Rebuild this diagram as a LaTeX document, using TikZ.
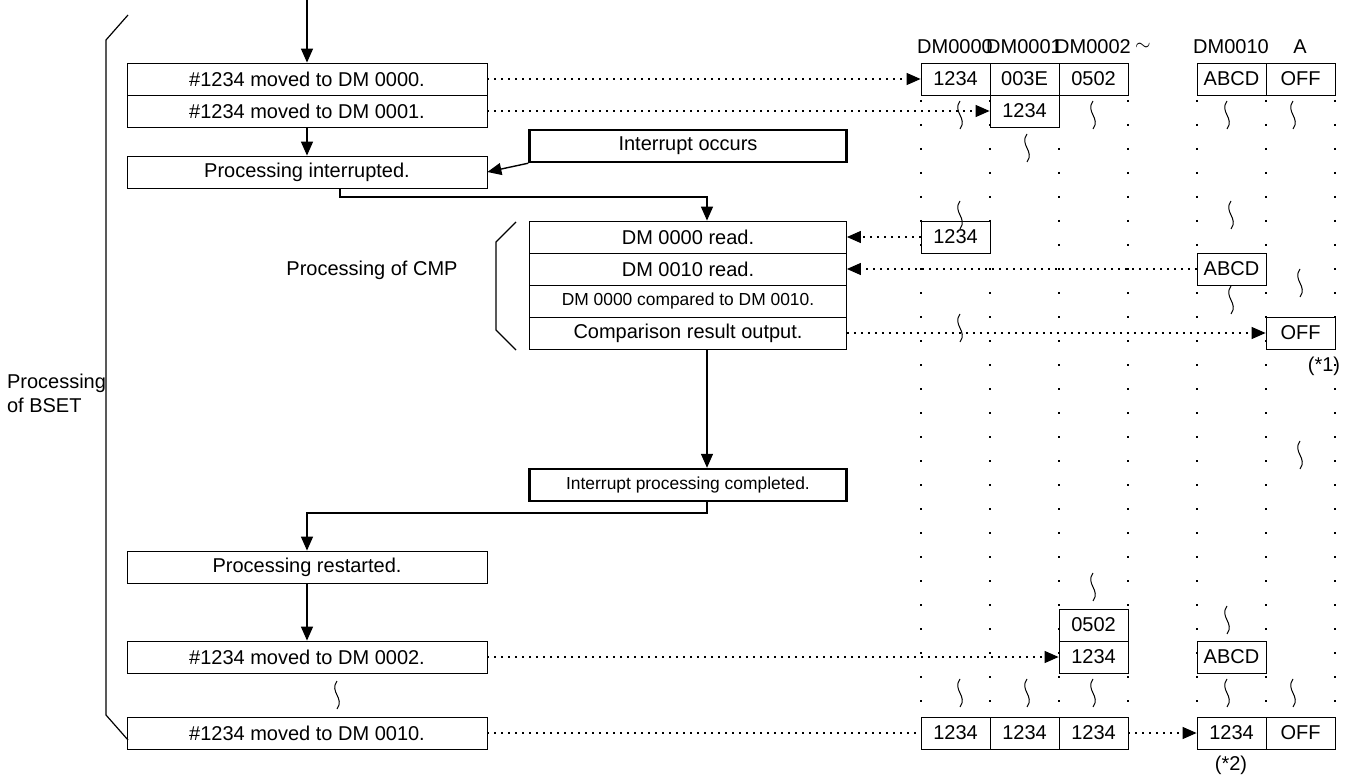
\documentclass[tikz,border=0pt]{standalone}
\usepackage{fontspec}
\setmainfont{Liberation Sans}
\usetikzlibrary{arrows.meta}
\begin{document}
\begin{tikzpicture}[x=0.5pt, y=-0.5pt, font=\fontsize{10}{12}\selectfont]
    % ================= styles =================
    \tikzset{
        % left process boxes
        pbox/.style={draw, fill=white, minimum width=180pt, minimum height=16pt, inner sep=0pt},
        % CMP boxes
        cbox/.style={draw, fill=white, minimum width=158.5pt, minimum height=16pt, inner sep=0pt},
        ebox/.style={cbox, line width=1.2pt},
        % memory cells
        cell/.style={draw, fill=white, minimum width=34.5pt, minimum height=16pt, inner sep=0pt},
        flow/.style={-{Triangle[length=7pt, width=6pt]}, line width=0.7pt},
        dots/.style={dash pattern=on 1pt off 2.5pt, line width=0.6pt},
        dotarrow/.style={dots, -{Triangle[length=7pt, width=6pt]}},
        grid_line/.style={dash pattern=on 1pt off 11pt, line width=0.8pt}
    }
    \newcommand{\squig}[2]{\draw[line width=0.5pt] (#1,#2-14) .. controls (#1-8,#2-3) and (#1+8,#2+3) .. (#1,#2+14);}
    \useasboundingbox (0,0) rectangle (1351,781);

    % column guides
    \foreach \x in {921,990,1059,1128,1197,1266,1335}
        \draw[grid_line] (\x,100) -- (\x,716);

    % headers
    \foreach \x/\t in {955/DM0000, 1024/DM0001, 1093/DM0002, 1231/DM0010, 1300/A}
        \node (h\t) at (\x,47) {\t};
    \node (tilde) at (1143,47) {$\sim$};

    % ================= left column =================
    \coordinate (start) at (307,0);
    \node[pbox] (m0) at (307,79) {\#1234 moved to DM 0000.};
    \node[pbox] (m1) at (307,111) {\#1234 moved to DM 0001.};
    \node[pbox] (pint) at (307,172) {Processing interrupted.};
    \node[ebox] (irq) at (688,146) {Interrupt occurs};
    \node[pbox] (prst) at (307,567) {Processing restarted.};
    \node[pbox] (m2) at (307,657) {\#1234 moved to DM 0002.};
    \node[pbox] (m10) at (307,733) {\#1234 moved to DM 0010.};

    % CMP
    \node[cbox] (c1) at (688,237) {DM 0000 read.};
    \node[cbox] (c2) at (688,269) {DM 0010 read.};
    \node[cbox, font=\fontsize{8.7}{10}\selectfont] (c3) at (688,301) {DM 0000 compared to DM 0010.};
    \node[cbox] (c4) at (688,333) {Comparison result output.};
    \node[ebox, font=\fontsize{8.7}{10}\selectfont] (done) at (688,485) {Interrupt processing completed.};

    % brackets and labels
    \draw[line width=0.6pt] (128,15) -- (106,40) -- (106,715) -- (128,740);
    \draw[line width=0.6pt] (516,222) -- (496,242) -- (496,330) -- (516,350);
    \node[align=left, anchor=west] (bset) at (0,393) {Processing\\of BSET};
    \node (cmp) at (372,270) {Processing of CMP};

    % flow arrows
    \draw[flow] (start) -- (m0.north);
    \draw[flow] (m1.south) -- (pint.north);
    \draw[flow] (irq.south west) -- (pint.east);
    \draw[flow] (pint.south -| 340,0) -- (340,197) -- (707,197) -- (c1.north -| 707,0);
    \draw[flow] (c4.south -| 707,0) -- (done.north -| 707,0);
    \draw[flow] (done.south -| 707,0) -- (707,513) -- (307,513) -- (prst.north);
    \draw[flow] (prst.south) -- (m2.north);
    \squig{337}{695}

    % ================= memory cells =================
    \node[cell] (a0) at (955.5,79) {1234};
    \node[cell] (a1) at (1024.5,79) {003E};
    \node[cell] (a2) at (1093.5,79) {0502};
    \node[cell] (a10) at (1231.5,79) {ABCD};
    \node[cell] (aA) at (1300.5,79) {OFF};
    \node[cell] (b1) at (1024.5,111) {1234};
    \node[cell] (r0) at (955.5,237) {1234};
    \node[cell] (r10) at (1231.5,269) {ABCD};
    \node[cell] (rA) at (1300.5,333) {OFF};
    \node[cell] (d2a) at (1093.5,625) {0502};
    \node[cell] (d2b) at (1093.5,657) {1234};
    \node[cell] (d10) at (1231.5,657) {ABCD};
    \node[cell] (e0) at (955.5,733) {1234};
    \node[cell] (e1) at (1024.5,733) {1234};
    \node[cell] (e2) at (1093.5,733) {1234};
    \node[cell] (e10) at (1231.5,733) {1234};
    \node[cell] (eA) at (1300.5,733) {OFF};
    \node (n1) at (1324,366) {(*1)};
    \node (n2) at (1231,765) {(*2)};

    % squiggles
    \foreach \x/\y in {960/115, 1093/115, 1227/115, 1293/115, 1027/148, 960/215, 960/328,
        1231/215, 1231/300, 1300/283, 1300/455, 1093/587, 1227/620,
        960/693, 1027/693, 1093/693, 1227/693, 1293/693}
        {\squig{\x}{\y}}

    % data movement
    \draw[dotarrow] (m0.east) -- (a0.west);
    \draw[dotarrow] (m1.east) -- (b1.west);
    \draw[dotarrow] (r0.west) -- (c1.east);
    \draw[dotarrow] (r10.west) -- (c2.east);
    \draw[dotarrow] (c4.east) -- (rA.west);
    \draw[dotarrow] (m2.east) -- (d2b.west);
    \draw[dots] (m10.east) -- (e0.west);
    \draw[dotarrow] (e2.east) -- (e10.west);
\end{tikzpicture}
\end{document}
